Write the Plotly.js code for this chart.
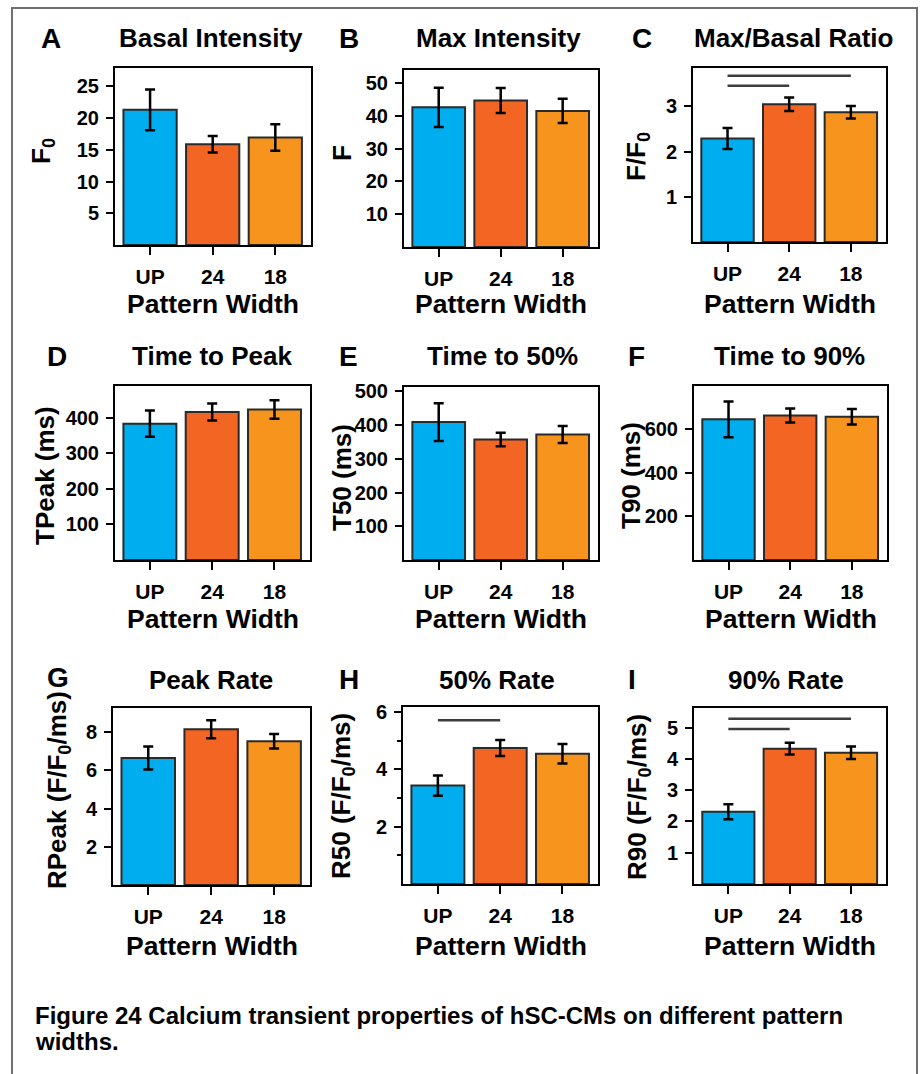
<!DOCTYPE html>
<html>
<head>
<meta charset="utf-8">
<script src="https://cdn.plot.ly/plotly-3.0.1.min.js"></script>
<style>html,body{margin:0;padding:0;background:#fff;}#chart{width:921px;height:1074px;}</style>
</head>
<body>
<div id="chart"></div>
<script>
// ---------------- data ----------------
const categories = ["UP", "24", "18"];

const basalMean = [21.3, 15.9, 16.95];
const basalErr  = [3.2, 1.3, 2.1];
const maxMean   = [42.6, 44.7, 41.5];
const maxErr    = [6.0, 3.8, 3.7];
const ratioMean = [2.29, 3.05, 2.87];
const ratioErr  = [0.23, 0.15, 0.14];
const tPeakMean = [384, 417, 424];
const tPeakErr  = [37, 24, 26];
const t50Mean   = [409, 357, 372];
const t50Err    = [56, 20, 25];
const t90Mean   = [645, 663, 657];
const t90Err    = [82, 32, 36];
const rPeakMean = [6.65, 8.16, 7.53];
const rPeakErr  = [0.6, 0.47, 0.38];
const r50Mean   = [3.43, 4.74, 4.54];
const r50Err    = [0.35, 0.28, 0.34];
const r90Mean   = [2.31, 4.33, 4.2];
const r90Err    = [0.24, 0.19, 0.2];

// significance brackets: [from, to, height]
const ratioSig = [["UP", "18", 3.68], ["UP", "24", 3.46]];
const r50Sig   = [["UP", "24", 5.71]];
const r90Sig   = [["UP", "18", 5.29], ["UP", "24", 4.96]];

// tick labels
const basalTicks = [5, 10, 15, 20, 25];
const maxTicks   = [10, 20, 30, 40, 50];
const ratioTicks = [1, 2, 3];
const tPeakTicks = [100, 200, 300, 400];
const t50Ticks   = [100, 200, 300, 400, 500];
const t90Ticks   = [200, 400, 600];
const rPeakTicks = [2, 4, 6, 8];
const r50Ticks   = [2, 4, 6];
const r50Minor   = [1, 3, 5];
const r90Ticks   = [1, 2, 3, 4, 5];

const panelLetters = ["A", "B", "C", "D", "E", "F", "G", "H", "I"];
const panelTitles = ["Basal Intensity", "Max Intensity", "Max/Basal Ratio",
                     "Time to Peak", "Time to 50%", "Time to 90%",
                     "Peak Rate", "50% Rate", "90% Rate"];
const yTitles = ["F<sub>0</sub>", "F", "F/F<sub>0</sub>",
                 "TPeak (ms)", "T50 (ms)", "T90 (ms)",
                 "RPeak (F/F<sub>0</sub>/ms)", "R50 (F/F<sub>0</sub>/ms)", "R90 (F/F<sub>0</sub>/ms)"];
const xTitle = "Pattern Width";
const captionLines = ["Figure 24 Calcium transient properties of hSC-CMs on different pattern", "widths."];

const means = [basalMean, maxMean, ratioMean, tPeakMean, t50Mean, t90Mean, rPeakMean, r50Mean, r90Mean];
const errs  = [basalErr, maxErr, ratioErr, tPeakErr, t50Err, t90Err, rPeakErr, r50Err, r90Err];
const ticks = [basalTicks, maxTicks, ratioTicks, tPeakTicks, t50Ticks, t90Ticks, rPeakTicks, r50Ticks, r90Ticks];
const sigs  = [null, null, ratioSig, null, null, null, null, r50Sig, r90Sig];

// ---------------- layout geometry (pixels) ----------------
const W = 921, H = 1074;
const px = v => v / W;
const py = v => 1 - v / H;
const frames = [
  [115, 311, 68, 245], [404, 598, 70, 247], [693, 886, 68, 242],
  [115, 310, 386, 560], [404, 598, 387, 560], [694, 887, 386, 560],
  [113, 310, 708, 885], [403, 598, 707, 884], [694, 886, 708, 884]
];
const yTops = [27.9, 54, 3.85, 490, 513, 798, 9.27, 6.17, 5.63];
const letterPos = [[51, 38], [349, 38], [642, 38], [57, 356], [348, 356], [636, 356], [58, 678], [349, 679], [632, 679]];
const titlePos  = [[211, 38], [498, 38], [793, 38], [212, 356], [502, 356], [789, 356], [211, 680], [497, 680], [786, 680]];
const yTitlePos = [[42, 151], [342, 153], [637, 157], [45, 476], [342, 478], [631, 476], [59, 790], [342, 796], [638, 797]];
const xTitleY = [303.5, 303.5, 303.5, 619, 619, 619, 946, 946, 946];
const captionY = [1015, 1041];

const barColors = ["#00AEEF", "#F26522", "#F7941D"];
const FONT = "Liberation Sans, Arial, Helvetica, sans-serif";

const traces = [];
const layout = {
  width: W, height: H,
  margin: {l: 0, r: 0, t: 0, b: 0},
  paper_bgcolor: "#ffffff", plot_bgcolor: "#ffffff",
  showlegend: false,
  font: {family: FONT, color: "#000"},
  annotations: [],
  shapes: [{
    type: "rect", xref: "paper", yref: "paper",
    x0: px(12), x1: px(917), y0: -0.05, y1: py(8),
    line: {color: "#707070", width: 2}, fillcolor: "rgba(0,0,0,0)", layer: "below"
  }]
};

for (let i = 0; i < 9; i++) {
  const n = i + 1;
  const xa = "x" + n, ya = "y" + n;
  const f = frames[i];
  traces.push({
    type: "bar", x: categories, y: means[i], xaxis: xa, yaxis: ya,
    width: 0.85,
    marker: {color: barColors, line: {color: "#2a2a2a", width: 2}},
    error_y: {type: "data", array: errs[i], visible: true, color: "#000", thickness: 2.5, width: 5},
    hoverinfo: "skip"
  });
  if (sigs[i]) {
    sigs[i].forEach(s => {
      traces.push({
        type: "scatter", mode: "lines", x: [s[0], s[1]], y: [s[2], s[2]],
        xaxis: xa, yaxis: ya, line: {color: "#3c3c3c", width: 2.5}, hoverinfo: "skip"
      });
    });
  }
  layout["xaxis" + n] = {
    domain: [px(f[0]), px(f[1])], anchor: ya,
    type: "category", categoryorder: "array", categoryarray: categories,
    range: [-0.56, 2.57],
    showline: true, mirror: true, linewidth: 2, linecolor: "#000",
    ticks: "outside", ticklen: 8, tickwidth: 2, tickcolor: "#000",
    tickfont: {family: FONT, size: 21, weight: "bold", color: "#000"},
    ticklabelstandoff: 4,
    showgrid: false, zeroline: false, fixedrange: true
  };
  const yax = {
    domain: [py(f[3]), py(f[2])], anchor: xa,
    range: [0, yTops[i]],
    tickmode: "array", tickvals: ticks[i],
    showline: true, mirror: true, linewidth: 2, linecolor: "#000",
    ticks: "outside", ticklen: 7, tickwidth: 2, tickcolor: "#000",
    tickfont: {family: FONT, size: 20, weight: "bold", color: "#000"},
    ticklabelstandoff: 3,
    showgrid: false, zeroline: false, fixedrange: true
  };
  if (i === 7) {
    yax.minor = {tickmode: "array", tickvals: r50Minor, ticks: "outside", ticklen: 4, tickwidth: 2, tickcolor: "#000", showgrid: false};
  }
  layout["yaxis" + n] = yax;

  layout.annotations.push({
    text: panelLetters[i], xref: "paper", yref: "paper",
    x: px(letterPos[i][0]), y: py(letterPos[i][1]), xanchor: "center", yanchor: "middle",
    showarrow: false, font: {family: FONT, size: 28, weight: "bold", color: "#000"}
  });
  layout.annotations.push({
    text: panelTitles[i], xref: "paper", yref: "paper",
    x: px(titlePos[i][0]), y: py(titlePos[i][1]), xanchor: "center", yanchor: "middle",
    showarrow: false, font: {family: FONT, size: 26, weight: "bold", color: "#000"}
  });
  layout.annotations.push({
    text: yTitles[i], xref: "paper", yref: "paper", textangle: -90,
    x: px(yTitlePos[i][0]), y: py(yTitlePos[i][1]), xanchor: "center", yanchor: "middle",
    showarrow: false, font: {family: FONT, size: 26, weight: "bold", color: "#000"}
  });
  layout.annotations.push({
    text: xTitle, xref: "paper", yref: "paper",
    x: px((f[0] + f[1]) / 2), y: py(xTitleY[i]), xanchor: "center", yanchor: "middle",
    showarrow: false, font: {family: FONT, size: 26.5, weight: "bold", color: "#000"}
  });
}

captionLines.forEach((t, k) => {
  layout.annotations.push({
    text: t, xref: "paper", yref: "paper",
    x: px(33), y: py(captionY[k]), xanchor: "left", yanchor: "middle", align: "left",
    showarrow: false, font: {family: FONT, size: 24, weight: "bold", color: "#000"}
  });
});

Plotly.newPlot("chart", traces, layout, {staticPlot: true, displayModeBar: false});
</script>
</body>
</html>
